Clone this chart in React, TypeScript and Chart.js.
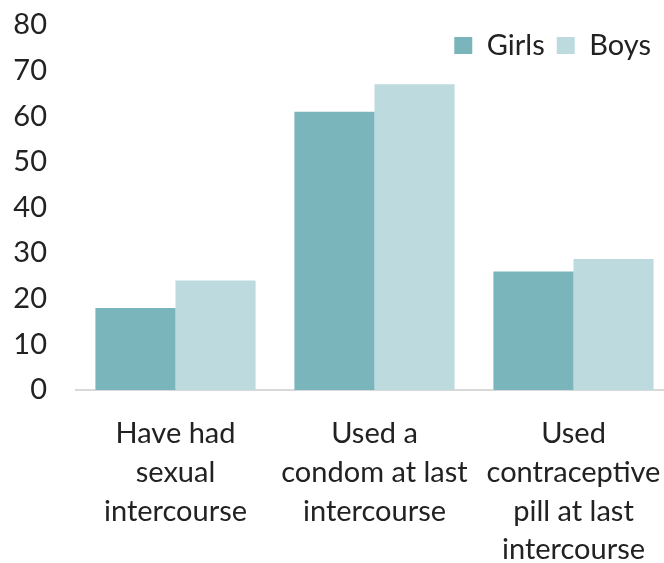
import React, { useEffect, useRef } from "react";
import { Chart, registerables } from "chart.js";

Chart.register(...registerables);

const categories: string[][] = [
  ["Have had", "sexual", "intercourse"],
  ["Used a", "condom at last", "intercourse"],
  ["Used", "contraceptive", "pill at last", "intercourse"],
];
const girls = [18, 61, 26];
const boys = [24, 67, 28.7];
const yTicks = { min: 0, max: 80, step: 10 };

const FONT = "Lato";
const FS = 29;

// Lets the legend float over the plot area (top right) without shrinking it.
const legendFloat = {
  id: "legendFloat",
  beforeLayout(chart: any) {
    const lg: any = chart.legend;
    if (lg && !lg.__patched) {
      const orig = lg.fit.bind(lg);
      lg.fit = function () {
        orig();
        this.__h = this.height;
        this.height = 0;
      };
      lg.__patched = true;
    }
  },
  afterLayout(chart: any) {
    const lg: any = chart.legend;
    if (!lg) return;
    lg.top = 19;
    lg.height = lg.__h;
    lg.bottom = lg.top + lg.__h;
    lg.right = 663;
  },
};

export default function App() {
  const ref = useRef<HTMLCanvasElement>(null);
  useEffect(() => {
    if (!ref.current) return;
    const chart = new Chart(ref.current, {
      type: "bar",
      data: {
        labels: categories,
        datasets: [
          { label: "Girls", data: girls, backgroundColor: "#7AB5BC", categoryPercentage: 0.805, barPercentage: 1 },
          { label: "Boys", data: boys, backgroundColor: "#BDDADF", categoryPercentage: 0.805, barPercentage: 1 },
        ],
      },
      options: {
        animation: false,
        responsive: false,
        layout: { padding: { top: 25, right: 7, left: 0, bottom: 0 } },
        plugins: {
          tooltip: { enabled: false },
          legend: {
            position: "top",
            align: "end",
            labels: {
              font: { family: FONT, size: FS },
              color: "#222",
              boxWidth: 18,
              boxHeight: 17,
              padding: 12,
            },
          },
        },
        scales: {
          x: {
            grid: { display: false, drawTicks: false },
            border: { display: true, color: "#D9D9D9", width: 2 },
            ticks: {
              font: { family: FONT, size: FS, lineHeight: 1.34 },
              color: "#222",
              padding: 24,
              maxRotation: 0,
              autoSkip: false,
            },
            afterFit: (s: any) => {
              s.height = 173;
              s.paddingLeft = 0;
              s.paddingRight = 0;
            },
          },
          y: {
            min: yTicks.min,
            max: yTicks.max,
            grid: { display: false, drawTicks: false },
            border: { display: false },
            ticks: {
              stepSize: yTicks.step,
              font: { family: FONT, size: FS },
              color: "#222",
              padding: 29,
            },
            afterFit: (s: any) => {
              s.width = 76;
              s.paddingTop = 0;
              s.paddingBottom = 0;
            },
          },
        },
      },
      plugins: [legendFloat],
    });
    return () => chart.destroy();
  }, []);
  return (
    <div style={{ position: "absolute", left: 0, top: 0, width: 664, height: 563, overflow: "hidden" }}>
      <canvas ref={ref} width={680} height={563} style={{ display: "block" }} />
    </div>
  );
}
